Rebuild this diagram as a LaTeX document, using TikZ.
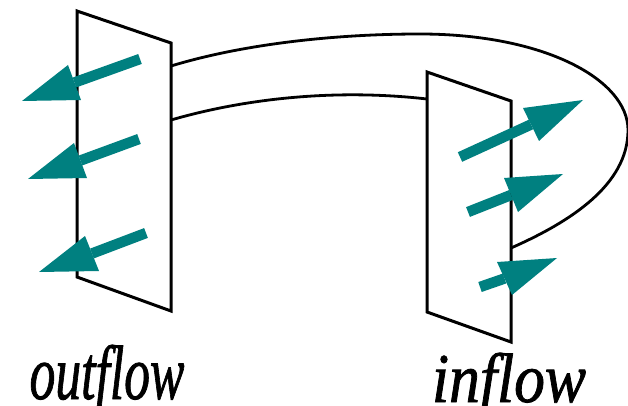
\documentclass[tikz,border=0pt]{standalone}
\usepackage{fontspec}
\setmainfont{Liberation Serif}
\newfontfamily\lblfont[FakeBold=1.2]{Liberation Serif}
\definecolor{flowteal}{RGB}{0,128,128}
\tikzset{
  panel/.style={draw=black, fill=white, line width=3pt, line join=miter},
  tube/.style={draw=black, line width=2.8pt},
  shaft/.style={draw=flowteal, line width=10.5pt},
  head/.style={fill=flowteal},
  lbl/.style={font=\lblfont\itshape, inner sep=0pt, anchor=base}
}
\begin{document}
\begin{tikzpicture}[x=1pt,y=-1pt]
\useasboundingbox (0,0) rectangle (628,406);
% tube
\draw[tube] (171,66) .. controls (240,45) and (330,34) .. (420,34)
  .. controls (545,34) and (628,80) .. (628,130)
  .. controls (628,185) and (570,222) .. (511,248);
\draw[tube] (171,120) .. controls (240,100) and (330,88) .. (427,99);
% panels
\draw[panel] (77,11) -- (171,43) -- (171,311) -- (77,277) -- cycle;
\draw[panel] (427,72) -- (511,101) -- (511,342) -- (427,312) -- cycle;
% outflow arrows
\draw[shaft] (140,59) -- (74.5,82.5);
\fill[head] (22,101) -- (68,65) -- (81,100) -- cycle;
\draw[shaft] (139,139) -- (80.5,160.5);
\fill[head] (28,179) -- (74,143) -- (87,178) -- cycle;
\draw[shaft] (146,233) -- (92,253.5);
\fill[head] (39,272) -- (85,236) -- (99,271) -- cycle;
% inflow arrows
\draw[shaft] (460,157) -- (531,124.5);
\fill[head] (583,100) -- (523,108) -- (539,141) -- cycle;
\draw[shaft] (468,212) -- (511,195);
\fill[head] (563,174) -- (504,178) -- (518,212) -- cycle;
\draw[shaft] (480,287) -- (504.5,278.5);
\fill[head] (557,258) -- (497,262) -- (512,295) -- cycle;
% labels
\node[lbl, xscale=0.67] (outflow) at (107,399) {\fontsize{77}{80}\selectfont outflow};
\node[lbl, xscale=0.88] (inflow) at (509,402) {\fontsize{70}{74}\selectfont inflow};
\end{tikzpicture}
\end{document}
